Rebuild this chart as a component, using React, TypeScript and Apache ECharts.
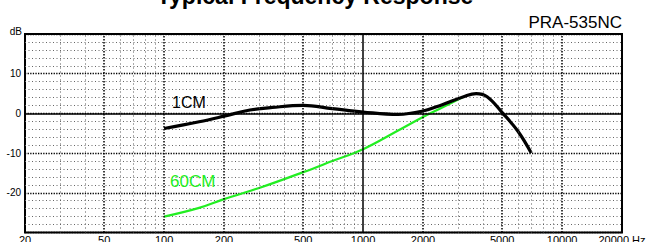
import React, { useEffect, useRef } from "react";
import * as echarts from "echarts";

const FONT = 'Arial, "Liberation Sans", Helvetica, sans-serif';

// X axis tick labels (Hz)
const xTickLabels = [20, 50, 100, 200, 500, 1000, 2000, 5000, 10000, 20000];
// vertical grid lines
const majorFreqs = [50, 100, 200, 500, 2000, 5000, 10000];
const minorFreqs = [30, 40, 60, 70, 80, 90, 300, 400, 600, 700, 800, 900, 3000, 4000, 6000, 7000, 8000, 9000];
const solidFreqs = [1000];

// curves: [Hz, dB]
const freq1cm = [100, 150, 200, 270, 350, 500, 700, 1000, 1500, 2000, 2500, 3200, 3700, 4200, 5000, 6000, 7000];
const db1cm = [-3.8, -2.1, -0.7, 0.85, 1.5, 2.0, 1.2, 0.35, -0.25, 0.6, 2.2, 4.2, 5.0, 4.2, 0.2, -4.5, -10];

const freq60cm = [100, 150, 200, 300, 500, 700, 1000, 1500, 2000, 2500, 3200];
const db60cm = [-26, -23.8, -21.6, -18.8, -14.8, -12, -9, -4.3, -0.9, 1.5, 4.2];

export default function App() {
  const ref = useRef<HTMLDivElement>(null);

  useEffect(() => {
    if (!ref.current) return;
    const chart = echarts.init(ref.current, undefined, { renderer: "svg" });

    const vLine = (vals: number[], style: any) =>
      vals.map((v) => ({ xAxis: v, lineStyle: style }));

    const option: any = {
      animation: false,
      backgroundColor: "#fff",
      textStyle: { fontFamily: FONT },
      grid: {
        left: 25,
        right: 25,
        top: 34,
        bottom: 9.5,
        show: true,
        borderColor: "#000",
        borderWidth: 2,
        backgroundColor: "transparent",
      },
      xAxis: {
        type: "log",
        logBase: 10,
        min: 20,
        max: 20000,
        axisLabel: { show: false },
        axisTick: { show: false },
        axisLine: { show: false },
        splitLine: { show: false },
      },
      yAxis: {
        type: "value",
        min: -30,
        max: 20,
        interval: 10,
        axisLine: { show: false },
        axisTick: { show: false },
        axisLabel: {
          color: "#000",
          fontSize: 10,
          fontFamily: FONT,
          margin: 4,
          formatter: (v: number) => (v === 20 || v === -30 ? "" : String(v)),
        },
        splitLine: {
          show: true,
          lineStyle: { color: "#000", width: 1.3, type: [1.3, 1.3] },
        },
        minorTick: { show: false, splitNumber: 5 },
        minorSplitLine: {
          show: true,
          lineStyle: { color: "#666", width: 1, type: [1, 2.5] },
        },
      },
      graphic: [
        {
          type: "text",
          x: 315,
          y: -4,
          style: {
            text: "Typical Frequency Response",
            font: `bold 23px ${FONT}`,
            fill: "#000",
            align: "center",
            verticalAlign: "middle",
          },
        },
        {
          type: "text",
          x: 622,
          y: 22,
          style: {
            text: "PRA-535NC",
            font: `17px ${FONT}`,
            fill: "#000",
            align: "right",
            verticalAlign: "middle",
          },
        },
        {
          type: "text",
          x: 22,
          y: 31,
          style: {
            text: "dB",
            font: `10px ${FONT}`,
            fill: "#000",
            align: "right",
            verticalAlign: "middle",
          },
        },
        {
          type: "text",
          x: 172,
          y: 102,
          z: 10,
          style: {
            text: "1CM",
            font: `16px ${FONT}`,
            fill: "#000",
            align: "left",
            verticalAlign: "middle",
          },
        },
        {
          type: "text",
          x: 170,
          y: 181,
          z: 10,
          style: {
            text: "60CM",
            font: `17px ${FONT}`,
            fill: "#22ee22",
            align: "left",
            verticalAlign: "middle",
          },
        },
      ],
      series: [
        {
          type: "line",
          data: [],
          silent: true,
          z: 1,
          markLine: {
            silent: true,
            symbol: ["none", "none"],
            animation: false,
            label: { show: false },
            data: [
              ...vLine(minorFreqs, { color: "#555", width: 1, type: [1, 3] }),
              ...vLine(majorFreqs, { color: "#000", width: 1.5, type: [1.5, 1.5] }),
              ...vLine(solidFreqs, { color: "#000", width: 1.5, type: "solid" }),
              { yAxis: 0, lineStyle: { color: "#000", width: 1.5, type: "solid" } },
            ],
          },
        },
        {
          type: "line",
          data: [],
          silent: true,
          z: 1,
          markLine: {
            silent: true,
            symbol: ["none", "none"],
            animation: false,
            lineStyle: { color: "rgba(0,0,0,0)", width: 0 },
            label: {
              show: true,
              position: "start",
              distance: 2,
              color: "#000",
              opacity: 1,
              fontSize: 11,
              fontFamily: FONT,
              formatter: (p: any) =>
                p.value === 20000 ? "20000 Hz" : String(p.value),
            },
            data: xTickLabels.map((v) => ({ xAxis: v })),
          },
        },
        {
          type: "line",
          name: "60CM",
          data: freq60cm.map((f, i) => [f, db60cm[i]]),
          smooth: 0.4,
          showSymbol: false,
          z: 3,
          lineStyle: { color: "#22ee22", width: 2.2 },
        },
        {
          type: "line",
          name: "1CM",
          data: freq1cm.map((f, i) => [f, db1cm[i]]),
          smooth: 0.4,
          showSymbol: false,
          z: 4,
          lineStyle: { color: "#000", width: 3.2 },
        },
      ],
    };

    chart.setOption(option);
    return () => chart.dispose();
  }, []);

  return <div ref={ref} style={{ width: 647, height: 242, position: "absolute", left: 0, top: 0 }} />;
}
